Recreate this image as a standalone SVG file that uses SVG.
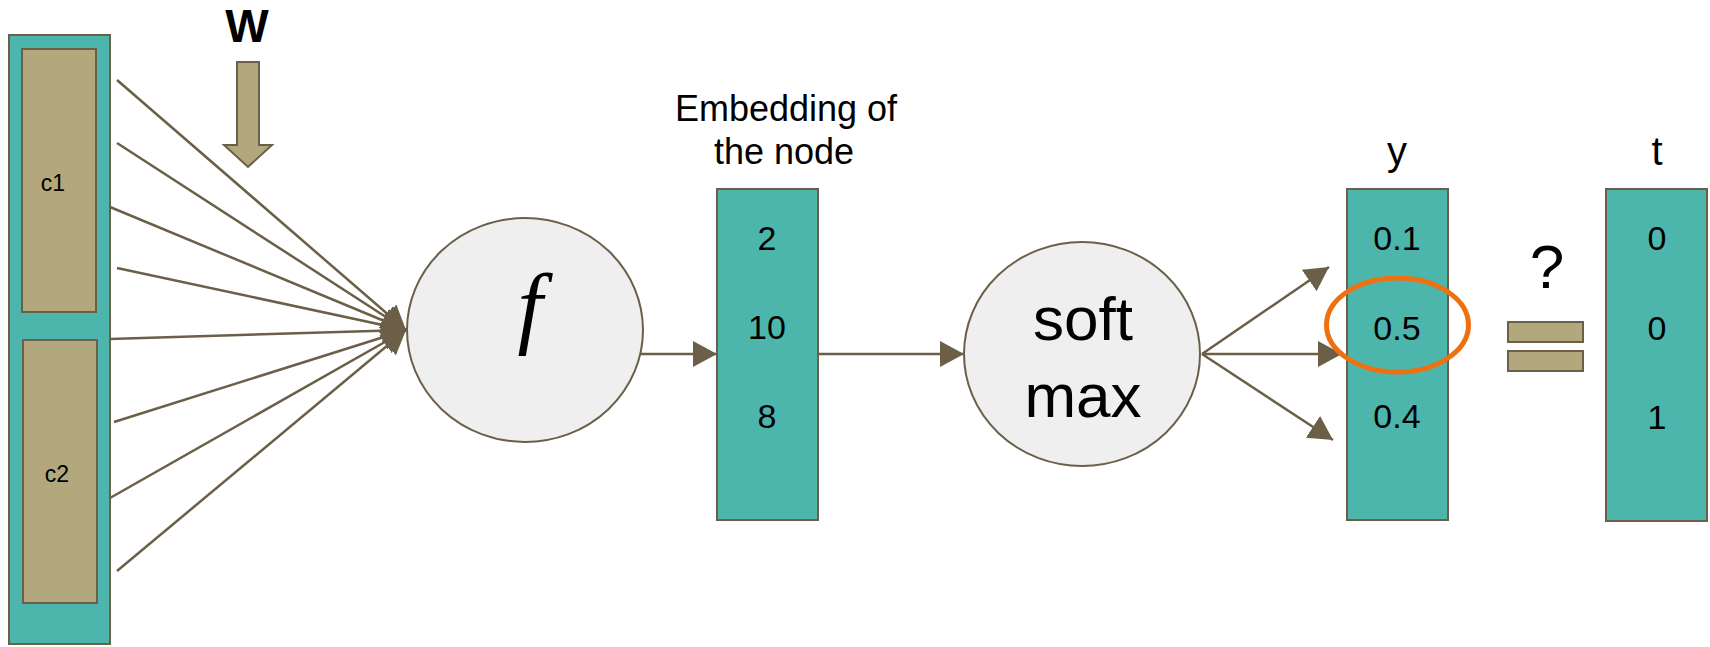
<svg xmlns="http://www.w3.org/2000/svg" width="1710" height="647" viewBox="0 0 1710 647">
  <style>
    .vec { fill: #4db6ac; stroke: #6b5f48; stroke-width: 2; }
    .tan { fill: #b3a77d; stroke: #6b5f48; stroke-width: 2; }
    .op { fill: #efefef; stroke: #6b5f48; stroke-width: 2; }
    .edge { stroke: #6b5f48; stroke-width: 2.5; fill: none; marker-end: url(#arrow); }
    text { font-family: "Liberation Sans", Arial, sans-serif; fill: #000; text-anchor: middle; }
    .num { font-size: 34px; }
    .lbl { font-size: 40px; }
    .fn { font-family: "Liberation Serif", "DejaVu Serif", serif; font-style: italic; font-size: 90px; }
  </style>
  <defs>
    <marker id="arrow" viewBox="0 0 24 26" refX="24" refY="13" markerWidth="24" markerHeight="26" markerUnits="userSpaceOnUse" orient="auto">
      <path d="M0,0 L24,13 L0,26 z" fill="#6b5f48"/>
    </marker>
  </defs>

  <!-- context input vector with its two halves -->
  <g id="context">
    <rect class="vec" x="9" y="35" width="101" height="609"/>
    <rect class="tan" x="22" y="49" width="74" height="263"/>
    <rect class="tan" x="23" y="340" width="74" height="263"/>
    <text x="53" y="191" font-size="23">c1</text>
    <text x="57" y="482" font-size="23">c2</text>
  </g>

  <!-- weight matrix label and its down arrow -->
  <g id="weights">
    <text x="247" y="42" font-size="46" font-weight="bold">W</text>
    <path class="tan" d="M237,62 L259,62 L259,145 L272,145 L248,167 L224,145 L237,145 z"/>
  </g>

  <g id="connectors">
    <line class="edge" x1="117" y1="80" x2="406" y2="330"/>
    <line class="edge" x1="117" y1="143" x2="406" y2="330"/>
    <line class="edge" x1="110" y1="207" x2="406" y2="330"/>
    <line class="edge" x1="117" y1="268" x2="406" y2="330"/>
    <line class="edge" x1="110" y1="339" x2="406" y2="330"/>
    <line class="edge" x1="114" y1="422" x2="406" y2="330"/>
    <line class="edge" x1="110" y1="498" x2="406" y2="330"/>
    <line class="edge" x1="117" y1="571" x2="406" y2="330"/>
    <line class="edge" x1="640" y1="354" x2="717" y2="354"/>
    <line class="edge" x1="818" y1="354" x2="964" y2="354"/>
    <line class="edge" x1="1202" y1="354" x2="1329" y2="267"/>
    <line class="edge" x1="1202" y1="354" x2="1342" y2="354"/>
    <line class="edge" x1="1202" y1="354" x2="1333" y2="440"/>
  </g>

  <g id="f">
    <ellipse class="op" cx="525" cy="330" rx="118" ry="112"/>
    <text class="fn" x="530" y="337">f</text>
  </g>

  <g id="embedding">
    <text x="786" y="121" font-size="36">Embedding of</text>
    <text x="784" y="164" font-size="36">the node</text>
    <rect class="vec" x="717" y="189" width="101" height="331"/>
    <text class="num" x="767" y="250">2</text>
    <text class="num" x="767" y="339">10</text>
    <text class="num" x="767" y="428">8</text>
  </g>

  <g id="softmax">
    <ellipse class="op" cx="1082" cy="354" rx="118" ry="112"/>
    <text x="1083" y="340" font-size="62">soft</text>
    <text x="1083" y="417" font-size="62">max</text>
  </g>

  <g id="y">
    <text class="lbl" x="1397" y="165">y</text>
    <rect class="vec" x="1347" y="189" width="101" height="331"/>
    <text class="num" x="1397" y="250">0.1</text>
    <text class="num" x="1397" y="340">0.5</text>
    <text class="num" x="1397" y="428">0.4</text>
    <ellipse cx="1397.5" cy="325" rx="71" ry="47" fill="none" stroke="#f07010" stroke-width="5"/>
  </g>

  <g id="compare">
    <text x="1547" y="288" font-size="62">?</text>
    <rect class="tan" x="1508" y="322" width="75" height="20"/>
    <rect class="tan" x="1508" y="351" width="75" height="20"/>
  </g>

  <g id="t">
    <text class="lbl" x="1657" y="165">t</text>
    <rect class="vec" x="1606" y="189" width="101" height="332"/>
    <text class="num" x="1657" y="250">0</text>
    <text class="num" x="1657" y="340">0</text>
    <text class="num" x="1657" y="429">1</text>
  </g>
</svg>
